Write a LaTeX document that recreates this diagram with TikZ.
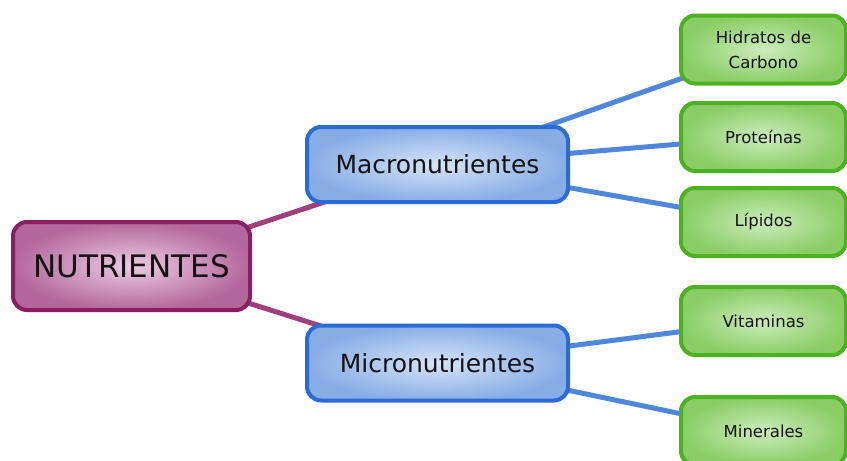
\documentclass[tikz,border=0pt]{standalone}
\usepackage{fontspec}
\setmainfont{DejaVu Sans}
\usepackage[svgnames]{xcolor}
\usetikzlibrary{positioning}
\usetikzlibrary{backgrounds}

\definecolor{plumline}{HTML}{8A1E62}
\definecolor{plumlink}{HTML}{9E3F7E}
\definecolor{plumout}{HTML}{B4679C}
\definecolor{plumin}{HTML}{EACBE2}
\definecolor{blueline}{HTML}{2A6CD4}
\definecolor{bluelink}{HTML}{4F88DA}
\definecolor{blueout}{HTML}{88ADE6}
\definecolor{bluein}{HTML}{D6E4F8}
\definecolor{greenline}{HTML}{4DB21F}
\definecolor{greenout}{HTML}{8ACD66}
\definecolor{greenin}{HTML}{CDECBB}

\tikzset{
  box/.style = {rectangle, rounded corners = 14pt, line width = 4pt,
                text = black!92, inner sep = 0pt},
  rootbox/.style = {box, draw = plumline, inner color = plumin, outer color = plumout,
                    minimum width = 237pt, minimum height = 88pt,
                    font = \fontsize{31}{36}\selectfont},
  groupbox/.style = {box, draw = blueline, inner color = bluein, outer color = blueout,
                     minimum width = 261pt, minimum height = 75pt,
                     font = \fontsize{25}{30}\selectfont},
  itembox/.style = {box, draw = greenline, inner color = greenin, outer color = greenout,
                    minimum width = 165pt, minimum height = 68pt, align = center,
                    font = \fontsize{16.5}{25}\selectfont},
  rootlink/.style = {draw = plumlink, line width = 5pt},
  grouplink/.style = {draw = bluelink, line width = 5pt}
}

\begin{document}
\begin{tikzpicture}[x = 1pt, y = -1pt]
    \useasboundingbox (0,0) rectangle (847,461);
    \clip (0,0) rectangle (847,461);

    % main concept and the two groups
    \node[rootbox] (nut) at (131.5,266) {NUTRIENTES};
    \node[groupbox] (macro) at (437.5,164.5) {Macronutrientes};
    \node[groupbox] (micro) at (437.5,363) {Micronutrientes};

    % leaves
    \node[itembox] (hc) at (763.5,49.5) {Hidratos de\\Carbono};
    \node[itembox] (prot) at (763.5,137) {Proteínas};
    \node[itembox] (lip) at (763.5,222) {Lípidos};
    \node[itembox] (vit) at (763.5,321) {Vitaminas};
    \node[itembox] (min) at (763.5,431) {Minerales};

    % links run centre to centre, under the boxes
    \begin{scope}[on background layer]
      \draw[rootlink] (nut.center) -- (macro.center);
      \draw[rootlink] (nut.center) -- (micro.center);
      \foreach \leaf in {hc, prot, lip} {
          \draw[grouplink] (macro.center) -- (\leaf.center);
      }
      \foreach \leaf in {vit, min} {
          \draw[grouplink] (micro.center) -- (\leaf.center);
      }
    \end{scope}
\end{tikzpicture}
\end{document}
